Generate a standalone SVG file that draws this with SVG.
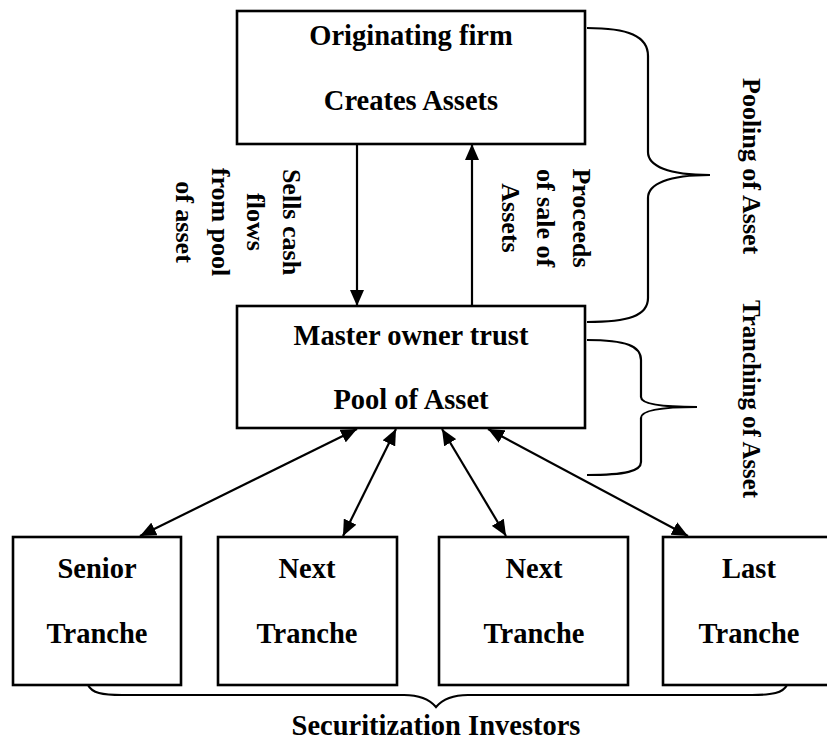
<svg xmlns="http://www.w3.org/2000/svg" width="827" height="747" viewBox="0 0 827 747">
  <style>
    .box { fill: #ffffff; stroke: #000000; stroke-width: 2.6; }
    .lbl { font-family: "Liberation Serif", "Times New Roman", serif; font-weight: bold; font-size: 28.5px; fill: #000000; text-anchor: middle; }
    .vl { font-family: "Liberation Serif", "Times New Roman", serif; font-weight: bold; font-size: 26px; fill: #000000; }
    .mid { text-anchor: middle; }
    .edge { fill: none; stroke: #000000; stroke-width: 2.2; }
    .brace { fill: none; stroke: #000000; stroke-width: 2.2; }
  </style>
  <defs>
    <marker id="head" viewBox="0 0 16 14" refX="16" refY="7" markerWidth="16" markerHeight="14" markerUnits="userSpaceOnUse" orient="auto-start-reverse">
      <path d="M0,0 L16,7 L0,14 z" fill="#000000"/>
    </marker>
  </defs>
  <rect width="827" height="747" fill="#ffffff"/>

  <!-- nodes -->
  <g id="originating-firm">
    <rect class="box" x="237" y="11" width="348" height="133"/>
    <text class="lbl" x="411" y="45">Originating firm</text>
    <text class="lbl" x="411" y="110">Creates Assets</text>
  </g>
  <g id="master-trust">
    <rect class="box" x="237" y="306" width="348" height="122"/>
    <text class="lbl" x="411" y="345">Master owner trust</text>
    <text class="lbl" x="411" y="409">Pool of Asset</text>
  </g>
  <g id="senior-tranche">
    <rect class="box" x="13" y="537" width="168" height="148"/>
    <text class="lbl" x="97" y="578">Senior</text>
    <text class="lbl" x="97" y="643">Tranche</text>
  </g>
  <g id="next-tranche-1">
    <rect class="box" x="218" y="537" width="179" height="148"/>
    <text class="lbl" x="307" y="578">Next</text>
    <text class="lbl" x="307" y="643">Tranche</text>
  </g>
  <g id="next-tranche-2">
    <rect class="box" x="439" y="537" width="189" height="148"/>
    <text class="lbl" x="534" y="578">Next</text>
    <text class="lbl" x="534" y="643">Tranche</text>
  </g>
  <g id="last-tranche">
    <rect class="box" x="663" y="537" width="170" height="148"/>
    <text class="lbl" x="749" y="578">Last</text>
    <text class="lbl" x="749" y="643">Tranche</text>
  </g>

  <!-- connectors -->
  <g id="connectors">
    <line class="edge" x1="357" y1="144" x2="357" y2="306" marker-end="url(#head)"/>
    <line class="edge" x1="472" y1="306" x2="472" y2="144" marker-end="url(#head)"/>
    <line class="edge" x1="357" y1="429" x2="140" y2="536" marker-start="url(#head)" marker-end="url(#head)"/>
    <line class="edge" x1="396" y1="429" x2="343" y2="536" marker-start="url(#head)" marker-end="url(#head)"/>
    <line class="edge" x1="442" y1="429" x2="506" y2="536" marker-start="url(#head)" marker-end="url(#head)"/>
    <line class="edge" x1="488" y1="429" x2="688" y2="536" marker-start="url(#head)" marker-end="url(#head)"/>
  </g>

  <!-- flow labels, vertical -->
  <g id="flow-labels" class="vl">
    <text class="mid" transform="translate(283,222) rotate(90)">Sells cash</text>
    <text class="mid" transform="translate(247,222) rotate(90)">flows</text>
    <text class="mid" transform="translate(212,222) rotate(90)">from pool</text>
    <text class="mid" transform="translate(176,222) rotate(90)">of asset</text>
    <text class="mid" transform="translate(573,218) rotate(90)">Proceeds</text>
    <text class="mid" transform="translate(537,218) rotate(90)">of sale of</text>
    <text class="mid" transform="translate(502,218) rotate(90)">Assets</text>
  </g>

  <!-- braces -->
  <g id="braces">
    <path class="brace" d="M587,28 C628,28 648,36 648,56 L648,152 C648,166 668,175 710,175 C668,175 648,184 648,198 L648,298 C648,316 628,322 587,322"/>
    <path class="brace" d="M587,340 C626,340 641,346 641,360 L641,397 C641,404 662,407 697,407 C662,407 641,410 641,418 L641,462 C641,471 626,475 587,475"/>
    <path class="brace" d="M88,685 C92,693 102,695 122,695 L404,695 C420,695 430,700 436,707 C442,700 452,695 468,695 L752,695 C772,695 783,693 787,685"/>
  </g>

  <!-- brace labels -->
  <g id="brace-labels" class="vl">
    <text transform="translate(743,78) rotate(90)">Pooling of Asset</text>
    <text transform="translate(743,300) rotate(90)" textLength="198" lengthAdjust="spacingAndGlyphs">Tranching of Asset</text>
    <text class="lbl" x="436" y="735">Securitization Investors</text>
  </g>
</svg>
